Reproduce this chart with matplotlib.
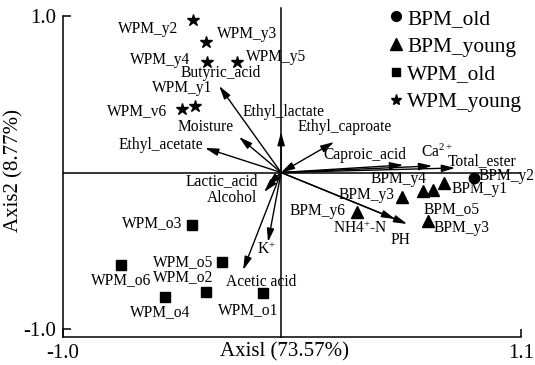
import matplotlib
matplotlib.use("Agg")
import matplotlib.pyplot as plt
from matplotlib.lines import Line2D

plt.rcParams['font.family'] = ['Liberation Serif', 'DejaVu Serif']
plt.rcParams['mathtext.fontset'] = 'custom'
plt.rcParams['mathtext.rm'] = 'Liberation Serif'
plt.rcParams['mathtext.it'] = 'Liberation Serif:italic'

# ---- sample scores (axis 1, axis 2) ----
wpm_young_names = ["WPM_y2", "WPM_y3", "WPM_y4", "WPM_y5", "WPM_y1", "WPM_v6"]
wpm_young_x = [-0.404, -0.344, -0.339, -0.202, -0.394, -0.454]
wpm_young_y = [0.974, 0.834, 0.706, 0.706, 0.425, 0.406]

wpm_old_names = ["WPM_o3", "WPM_o6", "WPM_o5", "WPM_o2", "WPM_o4", "WPM_o1"]
wpm_old_x = [-0.408, -0.734, -0.271, -0.344, -0.532, -0.083]
wpm_old_y = [-0.335, -0.591, -0.572, -0.764, -0.795, -0.770]

bpm_young_names = ["BPM_y6", "BPM_y3", "BPM_y4", "BPM_o5", "BPM_y1", "BPM_y3"]
bpm_young_x = [0.349, 0.555, 0.651, 0.697, 0.748, 0.674]
bpm_young_y = [-0.252, -0.157, -0.118, -0.112, -0.067, -0.310]

bpm_old_names = ["BPM_y2"]
bpm_old_x = [0.885]
bpm_old_y = [-0.035]

# ---- environmental factor vectors ----
env_names = ["Butyric_acid", "Moisture", "Ethyl_acetate", "Ethyl_lactate",
             "Ethyl_caproate", "Caproic_acid", "Ca$^{2+}$", "Total_ester",
             "Lactic_acid", "Alcohol", "K$^{+}$", "Acetic acid",
             "NH4$^{+}$-N", "PH"]
env_x = [-0.284, -0.193, -0.349, 0.000, 0.243, 0.560, 0.693, 0.798,
         -0.064, -0.078, -0.060, -0.174, 0.523, 0.578]
env_y = [0.553, 0.227, 0.157, 0.259, 0.195, 0.048, 0.042, 0.029,
         -0.086, -0.125, -0.444, -0.623, -0.297, -0.329]

legend_labels = ["BPM_old", "BPM_young", "WPM_old", "WPM_young"]
x_ticks = [-1.0, 1.1]
y_ticks = [-1.0, 1.0]
x_title = "Axisl (73.57%)"
y_title = "Axis2 (8.77%)"

# label placement (offset in pixels from mark, horizontal alignment)
wpm_young_lab = [((-45, -9), 'center'), ((11, 8), 'left'), ((-47, 2), 'center'),
                 ((39, 5), 'center'), ((-13, 18), 'center'), ((-45, -2), 'center')]
wpm_old_lab = [((-40, 2), 'center'), ((0, -15), 'center'), ((-39, 0), 'center'),
               ((-23, 15), 'center'), ((-5, -15), 'center'), ((-15, -17), 'center')]
bpm_young_lab = [((-40, 1), 'center'), ((-36, 2), 'center'), ((-25, 12), 'center'),
                 ((19, -19), 'center'), ((35, -6), 'center'), ((33, -7), 'center')]
bpm_old_lab = [((4, 2), 'left')]
env_lab = [(2, 13), (-33, 10), (-44, 3), (2, 20), (11, 15), (-38, 10), (5, 14),
           (27, 7), (-45, 5), (-32, -6), (-2, -8), (18, -12), (-35, -10), (-7, -16)]

FS = 11.2

fig = plt.figure(figsize=(5.35, 3.65), dpi=100)
ax = fig.add_axes([63 / 535, 28.2 / 365, 458 / 535, 328.6 / 365])
ax.set_xlim(-1.0, 1.1)
ax.set_ylim(-1.05, 1.05)

# reference lines through the origin
ax.plot([-1.0, 1.095], [0, 0], color='black', lw=1.1, zorder=1)
ax.plot([0, 0], [-1.05, 1.05], color='black', lw=1.1, zorder=1, clip_on=False)

# environmental vectors
for nm, vx, vy, off in zip(env_names, env_x, env_y, env_lab):
    style = '<|-|>' if nm == "Ethyl_caproate" else '-|>'
    ax.annotate("", xy=(vx, vy), xytext=(0, 0),
                arrowprops=dict(arrowstyle=style + ',head_length=0.8,head_width=0.22',
                                mutation_scale=10, color='black', lw=1.0,
                                shrinkA=0, shrinkB=0), zorder=3)
    ax.annotate(nm, xy=(vx, vy), xytext=off, textcoords='offset pixels',
                ha='center', va='center', fontsize=FS, zorder=4)

groups = [
    (bpm_old_x, bpm_old_y, bpm_old_names, bpm_old_lab, 'o', 7.5),
    (bpm_young_x, bpm_young_y, bpm_young_names, bpm_young_lab, '^', 8.5),
    (wpm_old_x, wpm_old_y, wpm_old_names, wpm_old_lab, 's', 6.5),
    (wpm_young_x, wpm_young_y, wpm_young_names, wpm_young_lab, '*', 9),
]
for gx, gy, names, labs, mk, ms in groups:
    ax.plot(gx, gy, linestyle='none', marker=mk, markersize=ms,
            color='black', zorder=5)
    for px, py, nm, (off, ha) in zip(gx, gy, names, labs):
        ax.annotate(nm, xy=(px, py), xytext=off, textcoords='offset pixels',
                    ha=ha, va='center', fontsize=FS, zorder=6,
                    annotation_clip=False)

# frame: only left and bottom, ticks pointing inward at the ends
for side in ('top', 'right'):
    ax.spines[side].set_visible(False)
ax.spines['left'].set_bounds(-1.05, 1.0)
for side in ('left', 'bottom'):
    ax.spines[side].set_linewidth(1.1)
ax.set_xticks(x_ticks)
ax.set_yticks(y_ticks)
ax.set_xticklabels([f"{v:.1f}" for v in x_ticks])
ax.set_yticklabels([f"{v:.1f}" for v in y_ticks])
ax.tick_params(direction='in', length=6, width=1.1, labelsize=15, pad=5)

fig.text(285 / 535, 1 - 352 / 365, x_title, ha='center', va='center', fontsize=15)
fig.text(14 / 535, 1 - 171 / 365, y_title, ha='center', va='center',
         rotation=90, fontsize=15)

handles = [Line2D([], [], linestyle='none', marker=m, color='black', markersize=s)
           for m, s in [('o', 7), ('^', 8), ('s', 6), ('*', 8)]]
fig.legend(handles, legend_labels, loc='upper left',
           bbox_to_anchor=(391 / 535, 1 - 9 / 365), frameon=False,
           fontsize=15.4, handlelength=0.5, handletextpad=0.25,
           labelspacing=0.36, borderpad=0, borderaxespad=0)

fig.savefig("out.png", dpi=100)
